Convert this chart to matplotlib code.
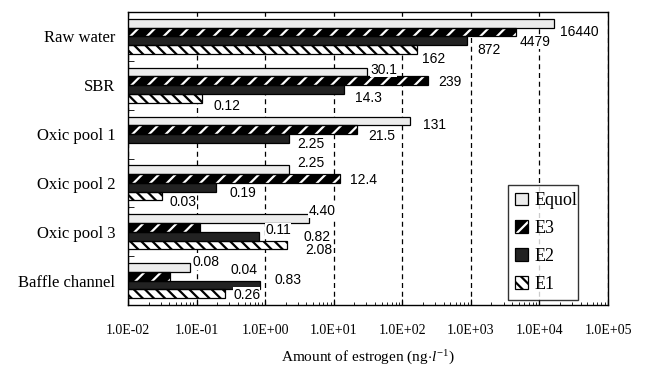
import numpy as np
import matplotlib
matplotlib.use("Agg")
import matplotlib.pyplot as plt
import matplotlib.patches as mpatches
from matplotlib.legend_handler import HandlerTuple

# ---------------- data ----------------
categories = ["Raw water", "SBR", "Oxic pool 1", "Oxic pool 2", "Oxic pool 3", "Baffle channel"]
series_names = ["Equol", "E3", "E2", "E1"]
equol = [16440, 30.1, 131, 2.25, 4.40, 0.08]
e3 = [4479, 239, 21.5, 12.4, 0.11, 0.04]
e2 = [872, 14.3, 2.25, 0.19, 0.82, 0.83]
e1 = [162, 0.12, np.nan, 0.03, 2.08, 0.26]
x_tick_values = [1e-2, 1e-1, 1e0, 1e1, 1e2, 1e3, 1e4, 1e5]
x_tick_labels = ["1.0E-02", "1.0E-01", "1.0E+00", "1.0E+01", "1.0E+02", "1.0E+03", "1.0E+04", "1.0E+05"]
x_label = "Amount of estrogen (ng$\\cdot$$\\mathit{l}^{-1}$)"

# label offsets (pixels: right, down) relative to bar end / bar centre
label_offsets = [
    [(6, 9), (3.5, -2), (13, 4), (8, -6.5), (-1, -8), (3, -5)],
    [(4.5, 10), (10, 1), (11.5, 6), (10, 1.5), (66, 3), (61, -6)],
    [(11, 9), (10.5, 8), (8, 6), (14, 6), (44, 1), (15, -5)],
    [(5, 9), (11, 8), (0, 0), (9, 6), (18, 5), (8, 1)],
]

SERIF = "Liberation Serif"
SANS = "Liberation Sans"
plt.rcParams["font.family"] = SERIF
plt.rcParams["mathtext.fontset"] = "custom"
plt.rcParams["mathtext.rm"] = SERIF
plt.rcParams["mathtext.it"] = SERIF + ":italic"
plt.rcParams["hatch.linewidth"] = 1.6

styles = [
    dict(face="#ececec", hatch=None, hcolor="#ececec"),
    dict(face="black", hatch="//", hcolor="white"),
    dict(face="#222222", hatch=None, hcolor="#222222"),
    dict(face="white", hatch="\\\\\\", hcolor="black"),
]


def fmt(v):
    if v >= 100:
        return "%d" % round(v)
    if v >= 10:
        return "%.1f" % v
    return "%.2f" % v


fig = plt.figure(figsize=(6.46, 3.74), dpi=100)
ax = fig.add_axes([128 / 646, 1 - 305 / 374, 480 / 646, 293 / 374])
ax.set_xscale("log")
ax.set_xlim(1e-2, 1e5)
ax.set_ylim(5.5, -0.5)

bar_h = 0.18
ypos = np.arange(len(categories))
all_series = [equol, e3, e2, e1]
handles = []
for i, (vals, st) in enumerate(zip(all_series, styles)):
    yy = ypos + (i - 1.5) * bar_h
    vals_arr = np.array(vals, dtype=float)
    ax.barh(yy, vals_arr, height=bar_h, left=1e-3, color=st["face"],
            edgecolor=st["hcolor"], hatch=st["hatch"], linewidth=0, zorder=2)
    ax.barh(yy, vals_arr, height=bar_h, left=1e-3, fill=False,
            edgecolor="black", linewidth=0.9, zorder=3)
    for j, v in enumerate(vals_arr):
        if np.isnan(v):
            continue
        dx, dy = label_offsets[i][j]
        ax.annotate(fmt(v), xy=(v, yy[j]), xytext=(dx, -dy), textcoords="offset pixels",
                    ha="left", va="center", fontsize=10, family=SANS, zorder=5,
                    bbox=dict(facecolor="white", edgecolor="none", pad=0.2))
    p_fill = mpatches.Patch(facecolor=st["face"], edgecolor=st["hcolor"], hatch=st["hatch"], linewidth=0)
    p_out = mpatches.Patch(fill=False, edgecolor="black", linewidth=0.9)
    handles.append((p_fill, p_out))

ax.set_xticks(x_tick_values)
ax.set_xticklabels(x_tick_labels, fontsize=10, family=SERIF)
ax.tick_params(axis="x", which="major", direction="in", length=4, pad=14, top=False)
ax.tick_params(axis="x", which="minor", direction="in", length=2.5, top=False)
ax.set_yticks(ypos)
ax.set_yticklabels(categories, fontsize=12, family=SERIF)
ax.set_yticks(np.arange(0.5, 5.5, 1.0), minor=True)
ax.tick_params(axis="y", which="major", length=0, pad=9)
ax.tick_params(axis="y", which="minor", direction="in", length=4)

ax.grid(axis="x", which="major", linestyle=(0, (4, 3)), color="black", linewidth=0.9, zorder=1)
ax.set_axisbelow(True)
for s in ax.spines.values():
    s.set_linewidth(1.0)
    s.set_color("black")

ax.set_xlabel(x_label, fontsize=11, family=SERIF, labelpad=8)

leg = ax.legend(handles, series_names, handler_map={tuple: HandlerTuple(ndivide=1, pad=0)},
                loc="lower left", bbox_to_anchor=(0.792, 0.017, 0.146, 0.41), mode="expand",
                frameon=True, fancybox=False, borderaxespad=0,
                handlelength=0.7, handleheight=0.7, handletextpad=0.35,
                labelspacing=0.6, borderpad=0.4, prop={"family": SERIF, "size": 13})
leg.get_frame().set_edgecolor("black")
leg.get_frame().set_linewidth(1.0)
leg.set_zorder(6)

fig.savefig("out.png", dpi=100)
